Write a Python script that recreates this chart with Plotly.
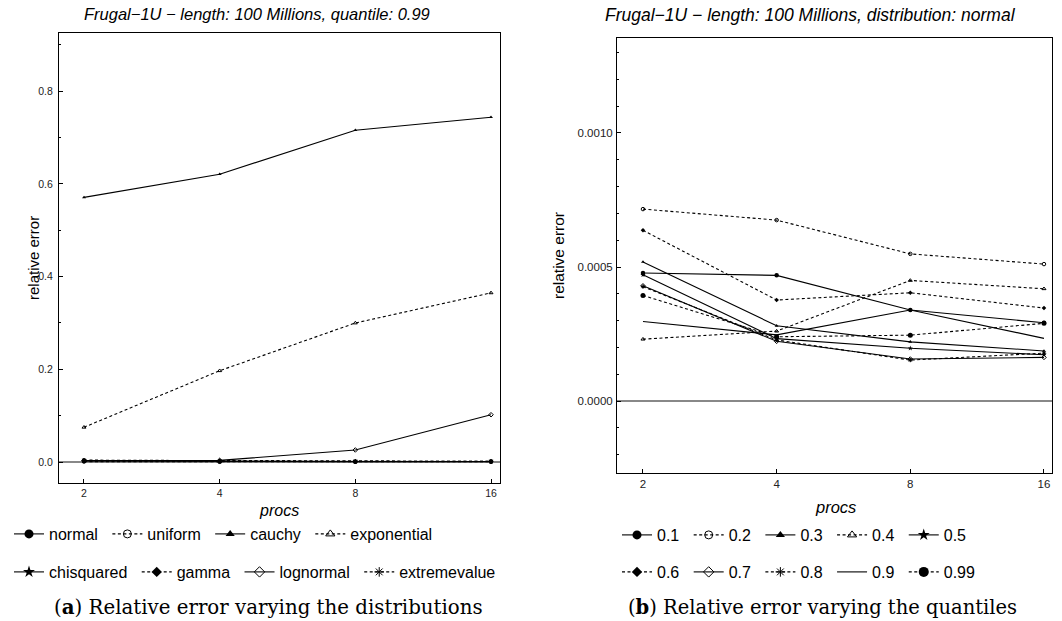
import math
import plotly.graph_objects as go

# ---- data -------------------------------------------------------------
procs = [2, 4, 8, 16]

# (a) relative error per input distribution, quantile 0.99
distributions = ["normal", "uniform", "cauchy", "exponential",
                 "chisquared", "gamma", "lognormal", "extremevalue"]
err_normal = [0.0026, 0.0012, 0.0008, 0.0009]
err_uniform = [0.0009, 0.0005, 0.0006, 0.0004]
err_cauchy = [0.571, 0.621, 0.716, 0.744]
err_exponential = [0.075, 0.197, 0.300, 0.365]
err_chisquared = [0.0021, 0.0018, 0.0012, 0.0010]
err_gamma = [0.0034, 0.0022, 0.0015, 0.0013]
err_lognormal = [0.0030, 0.0035, 0.026, 0.102]
err_extremevalue = [0.0041, 0.0027, 0.0019, 0.0016]
dist_errors = [err_normal, err_uniform, err_cauchy, err_exponential,
               err_chisquared, err_gamma, err_lognormal, err_extremevalue]

# (b) relative error per quantile, normal distribution
quantiles = ["0.1", "0.2", "0.3", "0.4", "0.5", "0.6", "0.7", "0.8", "0.9", "0.99"]
q_01 = [4.78e-4, 4.69e-4, 3.40e-4, 2.92e-4]
q_02 = [7.16e-4, 6.75e-4, 5.49e-4, 5.11e-4]
q_03 = [5.19e-4, 2.81e-4, 2.21e-4, 1.87e-4]
q_04 = [2.31e-4, 2.61e-4, 4.50e-4, 4.19e-4]
q_05 = [4.71e-4, 2.33e-4, 1.97e-4, 1.73e-4]
q_06 = [6.37e-4, 3.77e-4, 4.04e-4, 3.47e-4]
q_07 = [4.30e-4, 2.23e-4, 1.57e-4, 1.63e-4]
q_08 = [4.27e-4, 2.28e-4, 1.53e-4, 1.79e-4]
q_09 = [2.97e-4, 2.47e-4, 3.40e-4, 2.34e-4]
q_099 = [3.94e-4, 2.40e-4, 2.46e-4, 2.90e-4]
quantile_errors = [q_01, q_02, q_03, q_04, q_05, q_06, q_07, q_08, q_09, q_099]

# ---- styling ----------------------------------------------------------
W, H = 1062, 621
DASH = "3px,2.5px"
FONT = "Liberation Sans, Arial, sans-serif"
SERIF = "DejaVu Serif, serif"
GAP = "\u00a0"  # extra room after each legend label

# (dash, marker symbol, legend marker size, plot marker size)
series_styles = [
    ("solid", "circle", 9, 4.5),
    (DASH, "circle-open", 8, 3.5),
    ("solid", "triangle-up", 8, 3.5),
    (DASH, "triangle-up-open", 8, 3.5),
    ("solid", "star", 9, 4),
    (DASH, "diamond", 8, 3.5),
    ("solid", "diamond-open", 8, 3.5),
    (DASH, "asterisk-open", 8, 3.5),
    ("solid", None, 0, 0),
    (DASH, "circle", 10, 5),
]


def px_x(p):
    return p / W


def px_y(p):
    return 1 - p / H


fig = go.Figure()


def add_series(name, ys, style, xa, ya, legend):
    dash, symbol, lsize, psize = style
    mode = "lines+markers" if symbol else "lines"
    marker = dict(symbol=symbol or "circle", color="black", size=psize,
                  line=dict(color="black", width=1 if (symbol and "open" in symbol) else 0))
    fig.add_trace(go.Scatter(
        x=procs, y=ys, mode=mode, name=name, xaxis=xa, yaxis=ya,
        line=dict(color="black", width=1.1, dash=dash),
        marker=marker, showlegend=False, hoverinfo="skip"))
    lmarker = dict(marker)
    lmarker["size"] = lsize
    fig.add_trace(go.Scatter(
        x=[None], y=[None], mode=mode, name=name + GAP, xaxis=xa, yaxis=ya,
        line=dict(color="black", width=1.1, dash=dash),
        marker=lmarker, legend=legend, showlegend=True))


for i, (name, ys) in enumerate(zip(distributions, dist_errors)):
    add_series(name, ys, series_styles[i], "x", "y", "legend" if i < 4 else "legend2")

for i, (name, ys) in enumerate(zip(quantiles, quantile_errors)):
    add_series(name, ys, series_styles[i], "x2", "y2", "legend3" if i < 5 else "legend4")

L2 = math.log10(2)
axis_common = dict(
    showline=True, linecolor="black", linewidth=1, mirror=True,
    ticks="inside", ticklen=4, tickcolor="black", showgrid=False,
)
xcommon = dict(axis_common, type="log", tickvals=procs, ticktext=[str(p) for p in procs],
               zeroline=False)

fig.update_layout(
    width=W, height=H, margin=dict(l=0, r=0, t=0, b=0),
    paper_bgcolor="white", plot_bgcolor="white",
    font=dict(family=FONT, color="black"),
    xaxis=dict(xcommon, domain=[px_x(59), px_x(500)], anchor="y",
               range=[0.8158 * L2, 4.0663 * L2],
               tickfont=dict(size=10.5, color="#222")),
    yaxis=dict(axis_common, domain=[px_y(483), px_y(33)], anchor="x",
               range=[-0.0453, 0.9258], tickvals=[0, 0.2, 0.4, 0.6, 0.8],
               tickformat=".1f", tickfont=dict(size=10.5, color="#222"),
               ticklabelstandoff=3,
               minor=dict(dtick=0.1, ticks="inside", ticklen=2, tickcolor="black"),
               zeroline=True, zerolinecolor="#888", zerolinewidth=1.5),
    xaxis2=dict(xcommon, domain=[px_x(617), px_x(1052)], anchor="y2",
                range=[0.8057 * L2, 4.060 * L2],
                tickfont=dict(size=11.5, color="#222")),
    yaxis2=dict(axis_common, domain=[px_y(473), px_y(38)], anchor="x2",
                range=[-0.000268, 0.001354], tickvals=[0, 0.0005, 0.0010],
                tickformat=".4f", tickfont=dict(size=11.5, color="#222"),
                ticklabelstandoff=1,
                minor=dict(dtick=0.0001, ticks="inside", ticklen=2, tickcolor="black"),
                zeroline=True, zerolinecolor="#888", zerolinewidth=1.5),
)

legend_common = dict(orientation="h", xanchor="left", yanchor="middle",
                     font=dict(family=FONT, size=16, color="black"),
                     bgcolor="rgba(0,0,0,0)", itemclick=False, itemdoubleclick=False,
                     tracegroupgap=0)
fig.update_layout(
    legend=dict(legend_common, x=px_x(9), y=px_y(534)),
    legend2=dict(legend_common, x=px_x(9), y=px_y(572)),
    legend3=dict(legend_common, x=px_x(617), y=px_y(535)),
    legend4=dict(legend_common, x=px_x(617), y=px_y(572)),
)

annotations = [
    dict(text="<i>Frugal\u22121U \u2212 length: 100 Millions, quantile: 0.99</i>",
         x=px_x(257), y=px_y(14), font=dict(size=16.5)),
    dict(text="<i>Frugal\u22121U \u2212 length: 100 Millions, distribution: normal</i>",
         x=px_x(810), y=px_y(15), font=dict(size=17.5)),
    dict(text="relative error", x=px_x(33), y=px_y(258), textangle=-90, font=dict(size=15)),
    dict(text="relative error", x=px_x(558), y=px_y(256), textangle=-90, font=dict(size=15.5)),
    dict(text="<i>procs</i>", x=px_x(279), y=px_y(510), font=dict(size=16)),
    dict(text="<i>procs</i>", x=px_x(835), y=px_y(507), font=dict(size=16.5)),
    dict(text="(<b>a</b>) Relative error varying the distributions",
         x=px_x(268), y=px_y(607), font=dict(family=SERIF, size=19.8)),
    dict(text="(<b>b</b>) Relative error varying the quantiles",
         x=px_x(822), y=px_y(607), font=dict(family=SERIF, size=19.5)),
]
for a in annotations:
    a.update(xref="paper", yref="paper", showarrow=False, xanchor="center", yanchor="middle")
    a.setdefault("font", {})
    a["font"].setdefault("family", FONT)
    a["font"].setdefault("color", "black")
fig.update_layout(annotations=annotations)

fig.write_html("out.html")
